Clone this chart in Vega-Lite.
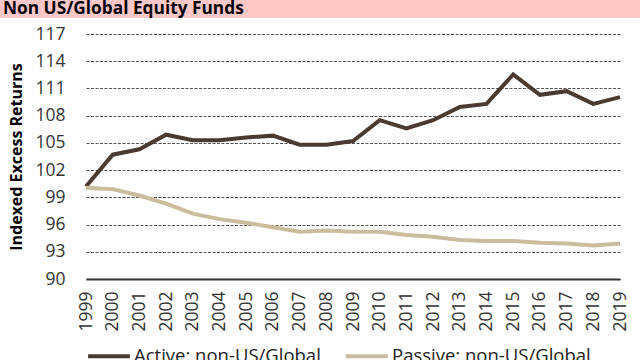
{
  "$schema": "https://vega.github.io/schema/vega-lite/v6.json",
  "background": "white",
  "padding": 0,
  "spacing": 7,
  "bounds": "full",
  "config": {
    "font": "Open Sans",
    "view": {"stroke": null},
    "axis": {"labelFont": "Open Sans", "titleFont": "Open Sans"}
  },
  "vconcat": [
    {
      "width": 640,
      "height": 18,
      "view": {"fill": "#ffc8c8", "stroke": null},
      "data": {"values": [{"t": "Non US/Global Equity Funds"}]},
      "mark": {"type": "text", "align": "left", "baseline": "alphabetic", "fontSize": 17.3, "fontWeight": "bold", "font": "Open Sans", "color": "#000", "dx": 3, "dy": 5},
      "encoding": {
        "x": {"datum": 0, "type": "quantitative", "scale": {"domain": [0, 1]}, "axis": null},
        "text": {"field": "t"}
      }
    },
    {
      "width": 640,
      "height": 245,
      "data": {"values": [
        {"year": "1999", "series": "Active: non-US/Global", "value": 100.2},
        {"year": "2000", "series": "Active: non-US/Global", "value": 103.7},
        {"year": "2001", "series": "Active: non-US/Global", "value": 104.3},
        {"year": "2002", "series": "Active: non-US/Global", "value": 105.9},
        {"year": "2003", "series": "Active: non-US/Global", "value": 105.3},
        {"year": "2004", "series": "Active: non-US/Global", "value": 105.3},
        {"year": "2005", "series": "Active: non-US/Global", "value": 105.6},
        {"year": "2006", "series": "Active: non-US/Global", "value": 105.8},
        {"year": "2007", "series": "Active: non-US/Global", "value": 104.8},
        {"year": "2008", "series": "Active: non-US/Global", "value": 104.8},
        {"year": "2009", "series": "Active: non-US/Global", "value": 105.2},
        {"year": "2010", "series": "Active: non-US/Global", "value": 107.5},
        {"year": "2011", "series": "Active: non-US/Global", "value": 106.6},
        {"year": "2012", "series": "Active: non-US/Global", "value": 107.5},
        {"year": "2013", "series": "Active: non-US/Global", "value": 108.95},
        {"year": "2014", "series": "Active: non-US/Global", "value": 109.3},
        {"year": "2015", "series": "Active: non-US/Global", "value": 112.55},
        {"year": "2016", "series": "Active: non-US/Global", "value": 110.3},
        {"year": "2017", "series": "Active: non-US/Global", "value": 110.7},
        {"year": "2018", "series": "Active: non-US/Global", "value": 109.3},
        {"year": "2019", "series": "Active: non-US/Global", "value": 110.05},
        {"year": "1999", "series": "Passive: non-US/Global", "value": 100.05},
        {"year": "2000", "series": "Passive: non-US/Global", "value": 99.9},
        {"year": "2001", "series": "Passive: non-US/Global", "value": 99.2},
        {"year": "2002", "series": "Passive: non-US/Global", "value": 98.3},
        {"year": "2003", "series": "Passive: non-US/Global", "value": 97.2},
        {"year": "2004", "series": "Passive: non-US/Global", "value": 96.6},
        {"year": "2005", "series": "Passive: non-US/Global", "value": 96.2},
        {"year": "2006", "series": "Passive: non-US/Global", "value": 95.7},
        {"year": "2007", "series": "Passive: non-US/Global", "value": 95.2},
        {"year": "2008", "series": "Passive: non-US/Global", "value": 95.35},
        {"year": "2009", "series": "Passive: non-US/Global", "value": 95.2},
        {"year": "2010", "series": "Passive: non-US/Global", "value": 95.2},
        {"year": "2011", "series": "Passive: non-US/Global", "value": 94.85},
        {"year": "2012", "series": "Passive: non-US/Global", "value": 94.65},
        {"year": "2013", "series": "Passive: non-US/Global", "value": 94.3},
        {"year": "2014", "series": "Passive: non-US/Global", "value": 94.2},
        {"year": "2015", "series": "Passive: non-US/Global", "value": 94.2},
        {"year": "2016", "series": "Passive: non-US/Global", "value": 94.0},
        {"year": "2017", "series": "Passive: non-US/Global", "value": 93.9},
        {"year": "2018", "series": "Passive: non-US/Global", "value": 93.7},
        {"year": "2019", "series": "Passive: non-US/Global", "value": 93.9}
      ]},
      "mark": {"type": "line", "strokeWidth": 4, "strokeJoin": "miter"},
      "encoding": {
        "x": {
          "field": "year", "type": "ordinal",
          "scale": {"type": "point", "padding": 0, "range": [86, 620]},
          "axis": {"title": null, "labelAngle": -90, "labelFontSize": 17.5, "labelColor": "#333", "labelPadding": 12, "ticks": false, "domain": true, "domainColor": "#333", "domainWidth": 2, "grid": false}
        },
        "y": {
          "field": "value", "type": "quantitative",
          "scale": {"domain": [90, 117], "nice": false, "zero": false},
          "axis": {"title": "Indexed Excess Returns", "offset": -86, "titleFontSize": 16, "titleFontWeight": "bold", "titleColor": "#000", "titlePadding": 10, "values": [90, 93, 96, 99, 102, 105, 108, 111, 114, 117], "labelFontSize": 17.5, "labelColor": "#333", "labelPadding": 21, "ticks": false, "domain": false, "grid": true, "gridDash": [3, 1.5], "gridColor": "#555", "gridWidth": 1.2}
        },
        "color": {
          "field": "series", "type": "nominal",
          "scale": {"domain": ["Active: non-US/Global", "Passive: non-US/Global"], "range": ["#4a3a30", "#cbbc9e"]},
          "legend": {"title": null, "orient": "none", "legendX": 86, "legendY": 333, "direction": "horizontal", "symbolType": "stroke", "symbolStrokeWidth": 4, "symbolSize": 1750, "labelFontSize": 18.5, "labelOffset": 2, "labelLimit": 400, "labelColor": "#222", "columnPadding": 17}
        }
      }
    }
  ]
}
